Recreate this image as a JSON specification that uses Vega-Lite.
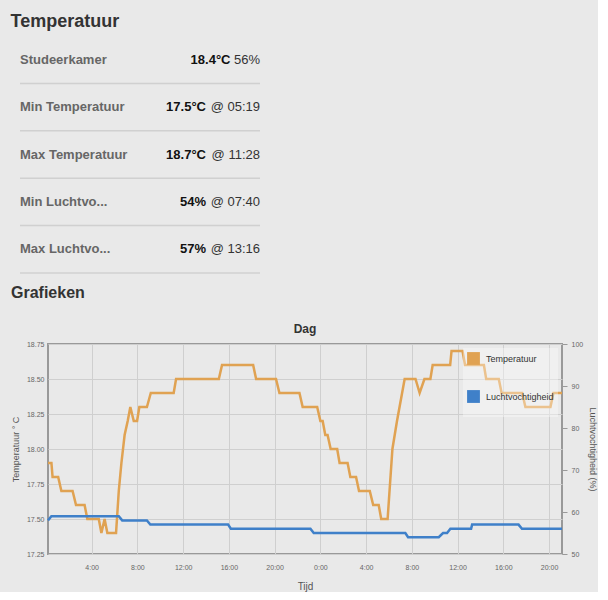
{
  "$schema": "https://vega.github.io/schema/vega-lite/v6.json",
  "background": "#e9e9e9",
  "padding": {"left": 10, "top": 13, "right": 0, "bottom": 0},
  "config": {
    "font": "Liberation Sans",
    "view": {"stroke": null}
  },
  "title": {"text": "Temperatuur", "anchor": "start", "frame": "bounds", "fontSize": 18, "fontWeight": "bold", "color": "#333", "offset": 5},
  "resolve": {"scale": {"color": "independent"}, "legend": {"color": "independent"}},
  "datasets": {
    "rows": [
      {"label": "Studeerkamer", "bold": "18.4°C", "rest": "56%"},
      {"label": "Min Temperatuur", "bold": "17.5°C", "rest": "@ 05:19"},
      {"label": "Max Temperatuur", "bold": "18.7°C", "rest": "@ 11:28"},
      {"label": "Min Luchtvo...", "bold": "54%", "rest": "@ 07:40"},
      {"label": "Max Luchtvo...", "bold": "57%", "rest": "@ 13:16"}
    ],
    "heading": [{"text": "Grafieken"}],
    "temp": [
      {"uur": 0.18, "v": 17.9}, {"uur": 0.48, "v": 17.9}, {"uur": 0.58, "v": 17.8}, {"uur": 1.07, "v": 17.8},
      {"uur": 1.35, "v": 17.7}, {"uur": 2.33, "v": 17.7}, {"uur": 2.63, "v": 17.6}, {"uur": 3.38, "v": 17.6},
      {"uur": 3.62, "v": 17.5}, {"uur": 4.62, "v": 17.5}, {"uur": 4.85, "v": 17.4}, {"uur": 5.13, "v": 17.5},
      {"uur": 5.37, "v": 17.4}, {"uur": 6.13, "v": 17.4}, {"uur": 6.37, "v": 17.7}, {"uur": 6.6, "v": 17.9},
      {"uur": 6.88, "v": 18.1}, {"uur": 7.15, "v": 18.2}, {"uur": 7.38, "v": 18.3}, {"uur": 7.68, "v": 18.2},
      {"uur": 7.97, "v": 18.2}, {"uur": 8.17, "v": 18.3}, {"uur": 8.83, "v": 18.3}, {"uur": 9.17, "v": 18.4},
      {"uur": 11.17, "v": 18.4}, {"uur": 11.38, "v": 18.5}, {"uur": 15.12, "v": 18.5}, {"uur": 15.4, "v": 18.6},
      {"uur": 18.12, "v": 18.6}, {"uur": 18.38, "v": 18.5}, {"uur": 20.12, "v": 18.5}, {"uur": 20.42, "v": 18.4},
      {"uur": 22.17, "v": 18.4}, {"uur": 22.45, "v": 18.3}, {"uur": 23.72, "v": 18.3}, {"uur": 24.0, "v": 18.2},
      {"uur": 24.2, "v": 18.2}, {"uur": 24.43, "v": 18.1}, {"uur": 24.63, "v": 18.1}, {"uur": 24.9, "v": 18.0},
      {"uur": 25.47, "v": 18.0}, {"uur": 25.68, "v": 17.9}, {"uur": 26.38, "v": 17.9}, {"uur": 26.62, "v": 17.8},
      {"uur": 27.12, "v": 17.8}, {"uur": 27.38, "v": 17.7}, {"uur": 28.32, "v": 17.7}, {"uur": 28.62, "v": 17.6},
      {"uur": 29.1, "v": 17.6}, {"uur": 29.32, "v": 17.5}, {"uur": 29.88, "v": 17.5}, {"uur": 30.3, "v": 18.0},
      {"uur": 30.7, "v": 18.2}, {"uur": 31.37, "v": 18.5}, {"uur": 32.32, "v": 18.5}, {"uur": 32.68, "v": 18.4},
      {"uur": 33.1, "v": 18.5}, {"uur": 33.62, "v": 18.5}, {"uur": 33.82, "v": 18.6}, {"uur": 35.35, "v": 18.6},
      {"uur": 35.47, "v": 18.7}, {"uur": 36.43, "v": 18.7}, {"uur": 36.65, "v": 18.6}, {"uur": 38.3, "v": 18.6},
      {"uur": 38.5, "v": 18.5}, {"uur": 39.6, "v": 18.5}, {"uur": 39.85, "v": 18.4}, {"uur": 41.65, "v": 18.4},
      {"uur": 41.93, "v": 18.3}, {"uur": 44.12, "v": 18.3}, {"uur": 44.38, "v": 18.4}, {"uur": 45.13, "v": 18.4}
    ],
    "hum": [
      {"uur": 0.18, "v": 58}, {"uur": 0.48, "v": 59}, {"uur": 6.37, "v": 59}, {"uur": 6.67, "v": 58},
      {"uur": 8.83, "v": 58}, {"uur": 9.13, "v": 57}, {"uur": 15.93, "v": 57}, {"uur": 16.17, "v": 56},
      {"uur": 23.13, "v": 56}, {"uur": 23.42, "v": 55}, {"uur": 31.43, "v": 55}, {"uur": 31.67, "v": 54},
      {"uur": 34.35, "v": 54}, {"uur": 34.73, "v": 55}, {"uur": 35.08, "v": 55}, {"uur": 35.37, "v": 56},
      {"uur": 37.18, "v": 56}, {"uur": 37.27, "v": 57}, {"uur": 41.33, "v": 57}, {"uur": 41.63, "v": 56},
      {"uur": 45.13, "v": 56}
    ]
  },
  "spacing": 11,
  "vconcat": [
    {
      "width": 240,
      "height": 237,
      "data": {"name": "rows"},
      "encoding": {
        "y": {"field": "label", "type": "nominal", "sort": null, "axis": null, "scale": {"paddingInner": 0, "paddingOuter": 0}}
      },
      "layer": [
        {
          "mark": {"type": "rule", "color": "#d0d0d0", "strokeWidth": 1.5, "xOffset": -28, "x2Offset": -28, "yOffset": 23.7},
          "encoding": {
            "x": {"datum": 0, "type": "quantitative", "scale": {"domain": [0, 1]}, "axis": null},
            "x2": {"datum": 1}
          }
        },
        {
          "mark": {"type": "text", "align": "left", "fontWeight": "bold", "fontSize": 13, "color": "#666", "xOffset": -28},
          "encoding": {"x": {"datum": 0, "type": "quantitative"}, "text": {"field": "label"}}
        },
        {
          "mark": {"type": "text", "align": "right", "fontSize": 13, "color": "#333", "xOffset": -28},
          "encoding": {"x": {"datum": 1, "type": "quantitative"}, "text": {"field": "rest"}}
        },
        {
          "transform": [{"filter": {"not": {"field": "label", "equal": "Studeerkamer"}}}],
          "mark": {"type": "text", "align": "right", "fontWeight": "bold", "fontSize": 13, "color": "#111", "xOffset": -82},
          "encoding": {"x": {"datum": 1, "type": "quantitative"}, "text": {"field": "bold"}}
        },
        {
          "transform": [{"filter": {"field": "label", "equal": "Studeerkamer"}}],
          "mark": {"type": "text", "align": "right", "fontWeight": "bold", "fontSize": 13, "color": "#111", "xOffset": -57.5},
          "encoding": {"x": {"datum": 1, "type": "quantitative"}, "text": {"field": "bold"}}
        }
      ]
    },
    {
      "width": 240,
      "height": 26,
      "data": {"name": "heading"},
      "mark": {"type": "text", "align": "left", "baseline": "top", "fontSize": 16, "fontWeight": "bold", "color": "#333", "xOffset": -37},
      "encoding": {
        "x": {"datum": 0, "type": "quantitative", "scale": {"domain": [0, 1]}, "axis": null},
        "y": {"datum": 0, "type": "quantitative", "scale": {"domain": [0, 1], "reverse": true}, "axis": null},
        "text": {"field": "text"}
      }
    },
    {
      "title": {"text": "Dag", "anchor": "middle", "fontSize": 12, "fontWeight": "bold", "color": "#333", "offset": 4},
      "width": 514,
      "height": 210,
      "view": {"stroke": "#999", "strokeWidth": 2},
      "layer": [
        {
          "data": {"name": "temp"},
          "mark": {"type": "line", "strokeWidth": 2.5},
          "encoding": {
            "x": {
              "field": "uur", "type": "quantitative",
              "scale": {"domain": [0.18, 45.13], "nice": false, "zero": false},
              "axis": {"title": "Tijd", "values": [4, 8, 12, 16, 20, 24, 28, 32, 36, 40, 44], "labelExpr": "(datum.value % 24) + ':00'", "labelFontSize": 7, "labelColor": "#666", "labelPadding": 9, "labelFlush": false, "labelOverlap": false, "ticks": false, "domain": false, "grid": true, "gridColor": "#cfcfcf", "titleFontSize": 10, "titleFontWeight": "normal", "titleColor": "#555", "titlePadding": 11}
            },
            "y": {
              "field": "v", "type": "quantitative",
              "scale": {"domain": [17.25, 18.75], "zero": false, "nice": false},
              "axis": {"title": "Temperatuur ° C", "values": [17.25, 17.5, 17.75, 18, 18.25, 18.5, 18.75], "format": ".2f", "labelFontSize": 7, "labelColor": "#666", "labelPadding": 4, "ticks": false, "domain": false, "grid": true, "gridColor": "#cfcfcf", "titleFontSize": 9, "titleFontWeight": "normal", "titleColor": "#555", "titlePadding": 6}
            },
            "color": {
              "datum": "Temperatuur",
              "scale": {"domain": ["Temperatuur", "Luchtvochtigheid"], "range": ["#e0a252", "#3f80c9"]},
              "legend": {
                "title": null, "orient": "top-right", "offset": 4, "symbolType": "square", "symbolSize": 40, "symbolStrokeWidth": 6.5,
                "labelFontSize": 9, "labelColor": "#333", "labelOffset": 6,
                "fillColor": "rgba(255,255,255,0.35)", "padding": 4, "rowPadding": 5
              }
            }
          }
        },
        {
          "data": {"name": "hum"},
          "mark": {"type": "line", "strokeWidth": 2.5},
          "encoding": {
            "x": {"field": "uur", "type": "quantitative"},
            "y": {
              "field": "v", "type": "quantitative",
              "scale": {"domain": [50, 100], "zero": false, "nice": false},
              "axis": {"orient": "right", "title": "Luchtvochtigheid (%)", "values": [50, 60, 70, 80, 90, 100], "labelFontSize": 7, "labelColor": "#666", "labelPadding": 4, "ticks": true, "tickSize": 5, "tickColor": "#999", "domain": false, "grid": false, "titleFontSize": 9, "titleFontWeight": "normal", "titleColor": "#555", "titlePadding": 5}
            },
            "color": {"datum": "Luchtvochtigheid"}
          }
        }
      ],
      "resolve": {"scale": {"y": "independent"}}
    }
  ]
}
